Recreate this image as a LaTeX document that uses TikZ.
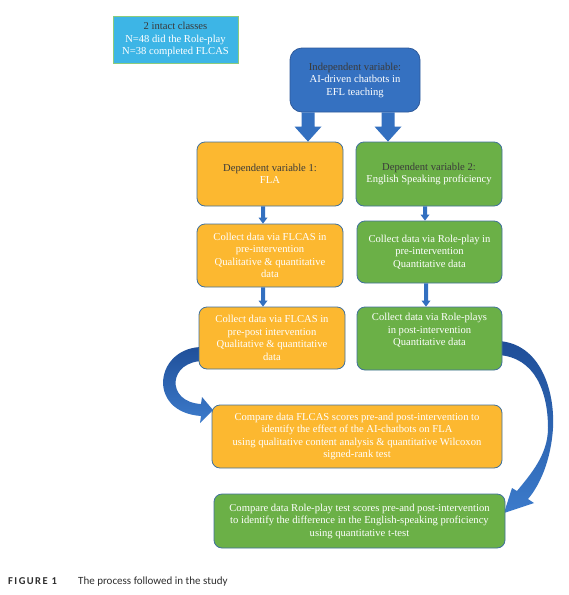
\documentclass[tikz,border=0pt]{standalone}
\usepackage{fontspec}
\setmainfont{Liberation Serif}
\newfontfamily\capfont{Carlito}
\usetikzlibrary{calc}
\definecolor{orangefill}{HTML}{FCB830}
\definecolor{greenfill}{HTML}{6BB047}
\definecolor{indepfill}{HTML}{3571C1}
\definecolor{classfill}{HTML}{3DB5E6}
\definecolor{classline}{HTML}{8CCB7C}
\definecolor{boxline}{HTML}{41719C}
\definecolor{indepline}{HTML}{2F5A9A}
\definecolor{darktext}{HTML}{3A3A3A}
\definecolor{arrowcol}{HTML}{3370C0}
\definecolor{curvetop}{HTML}{1F4E98}
\definecolor{curvebot}{HTML}{3C7BCB}
\newcommand\bigarrow[2]{%
  \fill[arrowcol] let \p1=(#1), \p2=(#2) in
    (\x1-6.5pt,\y1) -- (\x1-6.5pt,\y2+15pt) -- (\x1-13.5pt,\y2+15pt) -- (\x1,\y2)
    -- (\x1+13.5pt,\y2+15pt) -- (\x1+6.5pt,\y2+15pt) -- (\x1+6.5pt,\y1) -- cycle;}
\newcommand\smallarrow[2]{%
  \fill[arrowcol] let \p1=(#1), \p2=(#2) in
    (\x1-2pt,\y1) -- (\x1-2pt,\y2+6pt) -- (\x1-4.5pt,\y2+6pt) -- (\x1,\y2)
    -- (\x1+4.5pt,\y2+6pt) -- (\x1+2pt,\y2+6pt) -- (\x1+2pt,\y1) -- cycle;}
\begin{document}
\begin{tikzpicture}[x=1pt,y=-1pt,
  box/.style={draw=boxline, line width=0.8pt, rounded corners=8pt, align=center,
    font=\fontsize{10.6}{12.5}\selectfont, text=white, inner sep=2pt},
  orangebox/.style={box, fill=orangefill},
  greenbox/.style={box, fill=greenfill}]
\useasboundingbox[fill=white] (0,0) rectangle (569,595);

\node[box, fill=classfill, draw=classline, rounded corners=0pt,
  minimum width=125pt, minimum height=47pt] (classes) at (175.5,39.5)
  {{\color{darktext}2 intact classes}\\N=48 did the Role-play\\N=38 completed FLCAS};

% curved arrows (behind boxes)
\shade[top color=curvetop, bottom color=curvebot]
  (205,347) .. controls (155,345) and (145,412) .. (201,416) -- (200,423) -- (213,410)
  -- (202,397) -- (201,404) .. controls (165,402) and (168,360) .. (205,361) -- cycle;
\shade[top color=curvetop, bottom color=curvebot]
  (498,341) .. controls (540,343) and (555,390) .. (553,428)
  .. controls (551,460) and (540,485) .. (528,499) -- (534,503) -- (504,513)
  -- (512,488) -- (517,491) .. controls (530,475) and (548,455) .. (548,428)
  .. controls (548,392) and (535,357) .. (498,355) -- cycle;

\node[box, fill=indepfill, draw=indepline, rounded corners=12pt,
  minimum width=130pt, minimum height=64pt] (indep) at (355,80)
  {{\color{darktext}Independent variable:}\\AI-driven chatbots in\\EFL teaching};

\node[orangebox, minimum width=146pt, minimum height=64pt] (dep1) at (270,174)
  {{\color{darktext}Dependent variable 1:}\\FLA};
\node[greenbox, minimum width=146pt, minimum height=64pt] (dep2) at (429,174)
  {{\color{darktext}Dependent variable 2:}\\English Speaking proficiency};

\node[orangebox, minimum width=146pt, minimum height=63pt] (pre1) at (270,255.5)
  {Collect data via FLCAS in\\pre-intervention\\Qualitative \& quantitative\\data};
\node[greenbox, minimum width=145pt, minimum height=62pt] (pre2) at (429.5,252)
  {Collect data via Role-play in\\pre-intervention\\Quantitative data};

\node[orangebox, minimum width=146pt, minimum height=62pt] (post1) at (272,338)
  {Collect data via FLCAS in\\pre-post intervention\\Qualitative \& quantitative\\data};
\node[greenbox, minimum width=145pt, minimum height=63pt] (post2) at (429.5,338.5)
  {Collect data via Role-plays\\in post-intervention\\Quantitative data\\[5pt]};

\node[orangebox, minimum width=290pt, minimum height=63pt] (cmp1) at (357,436.5)
  {Compare data FLCAS scores pre-and post-intervention to\\identify the effect of the AI-chatbots on FLA\\using qualitative content analysis \& quantitative Wilcoxon\\signed-rank test};
\node[greenbox, minimum width=291pt, minimum height=54pt] (cmp2) at (359.5,521)
  {Compare data Role-play test scores pre-and post-intervention\\to identify the difference in the English-speaking proficiency\\using quantitative t-test};

% block arrows
\coordinate (a1s) at ($(indep.south)+(-47,0)$);
\coordinate (a1t) at ($(dep1.north)+(38,0)$);
\coordinate (a2s) at ($(indep.south)+(33,0)$);
\coordinate (a2t) at ($(dep2.north)+(-41,0)$);
\bigarrow{a1s}{a1t}
\bigarrow{a2s}{a2t}

\coordinate (b1s) at ($(dep1.south)+(-7,0)$);
\coordinate (b1t) at ($(pre1.north)+(-7,0)$);
\coordinate (b2s) at ($(dep2.south)+(-4,0)$);
\coordinate (b2t) at ($(pre2.north)+(-4.5,0)$);
\coordinate (b3s) at ($(pre1.south)+(-7,0)$);
\coordinate (b3t) at ($(post1.north)+(-9,0)$);
\coordinate (b4s) at ($(pre2.south)+(-3.5,0)$);
\coordinate (b4t) at ($(post2.north)+(-3.5,0)$);
\smallarrow{b1s}{b1t}
\smallarrow{b2s}{b2t}
\smallarrow{b3s}{b3t}
\smallarrow{b4s}{b4t}

% caption
\node[anchor=base west, inner sep=0pt, text=darktext!80!black,
  font=\capfont\bfseries\fontsize{10.5}{12}\selectfont]
  (capa) at (8,584) {\addfontfeature{LetterSpace=14}FIGURE 1};
\node[anchor=base west, inner sep=0pt, text=darktext!80!black,
  font=\capfont\fontsize{11}{13}\selectfont]
  (capb) at (78,584) {The process followed in the study};
\end{tikzpicture}
\end{document}
